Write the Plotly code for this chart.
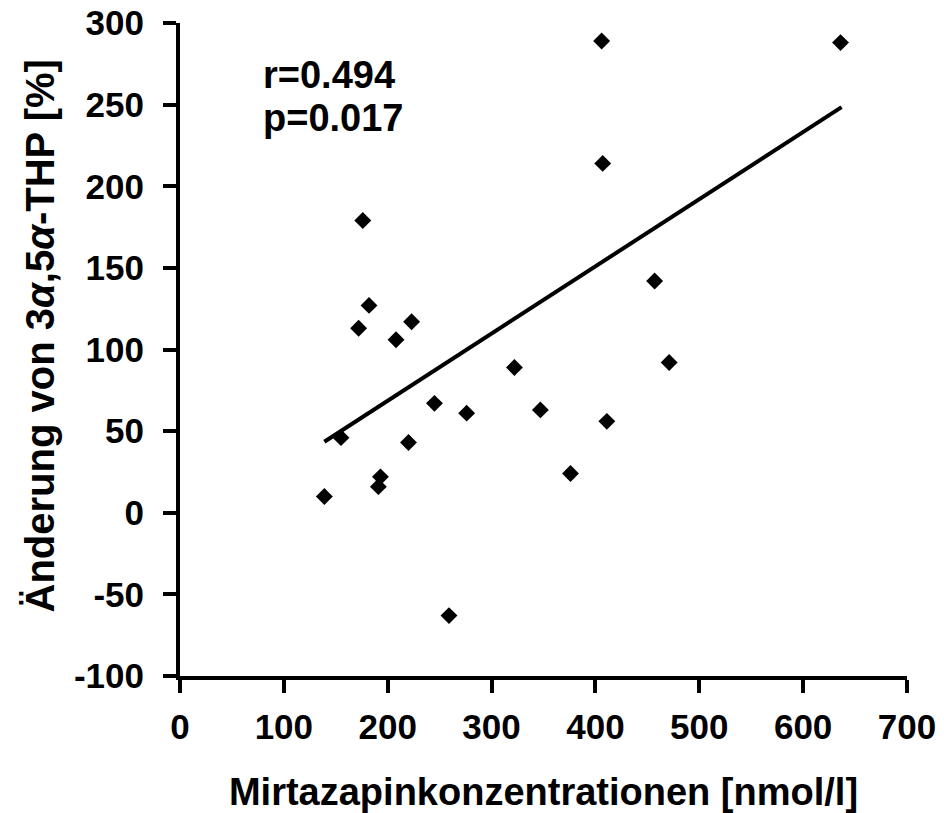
import plotly.graph_objects as go

# Mirtazapine concentration (nmol/l) and change of 3α,5α-THP (%)
konzentration = [139, 155, 191, 193, 220, 245, 276, 259, 406, 407, 457, 322,
                 471, 636, 347, 411, 376, 176, 182, 172, 208, 223]
aenderung = [10, 46, 16, 22, 43, 67, 61, -63, 289, 214, 142, 89,
             92, 288, 63, 56, 24, 179, 127, 113, 106, 117]

# Regression line (start / end of the fitted trend)
trend_x = [139, 637]
trend_y = [43.5, 248.5]

stat_text = ["r=0.494", "p=0.017"]

x_ticks = [0, 100, 200, 300, 400, 500, 600, 700]
y_ticks = [-100, -50, 0, 50, 100, 150, 200, 250, 300]

FONT = "Liberation Sans, Arial, Helvetica, sans-serif"

fig = go.Figure()
fig.add_trace(go.Scatter(
    x=trend_x, y=trend_y, mode="lines",
    line=dict(color="black", width=4),
    hoverinfo="skip", showlegend=False,
))
fig.add_trace(go.Scatter(
    x=konzentration, y=aenderung, mode="markers",
    marker=dict(symbol="diamond", size=13, color="black"),
    showlegend=False,
))

for label, yy in zip(stat_text, [268, 242]):
    fig.add_annotation(x=78, y=yy, xref="x", yref="y", text=label,
                       showarrow=False, xanchor="left", yanchor="middle",
                       font=dict(family=FONT, size=38, color="black", weight="bold"))

# vertical axis title
fig.add_annotation(x=-0.193, y=0.521, xref="paper", yref="paper",
                   text="Änderung von 3<i>α</i>,5<i>α</i>-THP [%]",
                   textangle=-90, showarrow=False,
                   xanchor="center", yanchor="middle",
                   font=dict(family=FONT, size=40, color="black", weight="bold"))

axis_common = dict(
    showgrid=False, zeroline=False, showline=True, automargin=False,
    linecolor="black", linewidth=4,
    ticks="outside", ticklen=13, tickwidth=4, tickcolor="black",
    tickfont=dict(family=FONT, size=35, color="black", weight="bold"),
)

fig.update_xaxes(
    range=[0, 700], tickvals=x_ticks, ticktext=[str(v) for v in x_ticks],
    title=dict(text="Mirtazapinkonzentrationen [nmol/l]",
               font=dict(family=FONT, size=38, color="black", weight="bold"),
               standoff=34),
    ticklabelstandoff=4,
    **axis_common,
)
fig.update_yaxes(
    range=[-100, 300], tickvals=y_ticks, ticktext=[str(v) for v in y_ticks],
    ticklabelstandoff=12,
    **axis_common,
)

fig.update_layout(
    width=944, height=813,
    margin=dict(l=180, r=37, t=23, b=137),
    plot_bgcolor="white", paper_bgcolor="white",
)

fig.write_html("out.html")
